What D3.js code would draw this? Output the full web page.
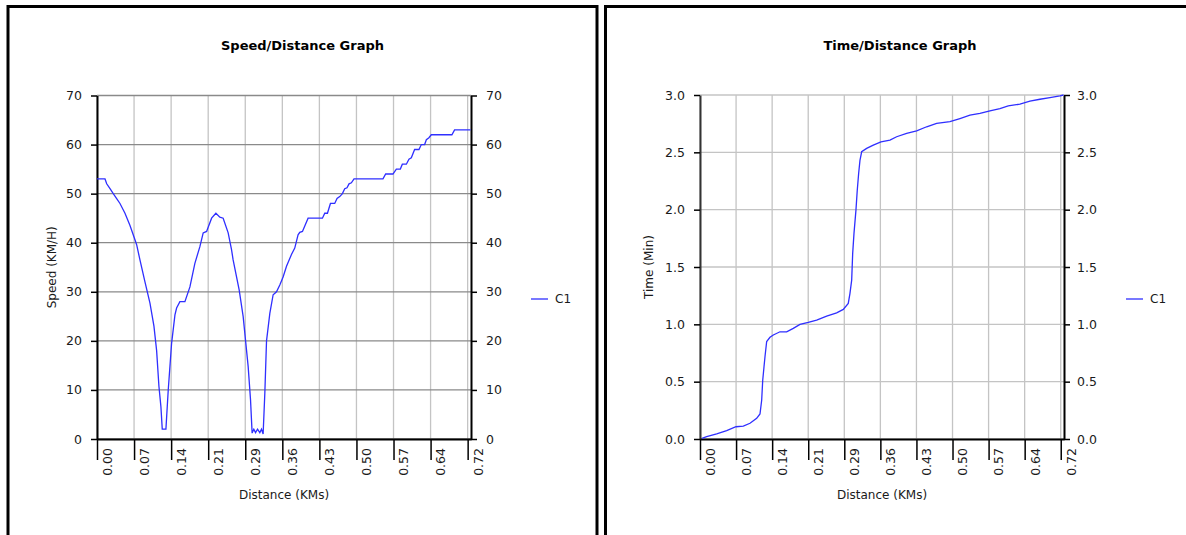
<!DOCTYPE html>
<html>
<head>
<meta charset="utf-8">
<script src="https://cdn.jsdelivr.net/npm/d3@7"></script>
<style>
  body { margin: 0; background: #fff; }
  svg text { font-family: "DejaVu Sans", Verdana, sans-serif; font-size: 12px; fill: #1a1a1a; }
  .title { font-weight: bold; fill: #000; font-size: 13px; }
</style>
</head>
<body>
<svg id="chart" width="1186" height="535"></svg>
<script>
// Speed/Distance graph: distance (km) and speed (km/h)
var speedDist = [0, 0.0155, 0.0188, 0.0252, 0.0315, 0.0381, 0.0445, 0.0542, 0.0639, 0.0722,
  0.0768, 0.0832, 0.0929, 0.1026, 0.1103, 0.1155, 0.120, 0.1238, 0.1264, 0.1335,
  0.138, 0.1445, 0.151, 0.1542, 0.1606, 0.1703, 0.18, 0.1896, 0.1993, 0.2057,
  0.2123, 0.222, 0.2303, 0.238, 0.2444, 0.2541, 0.2606, 0.2637, 0.2754, 0.2831,
  0.2928, 0.2974, 0.3005, 0.3038, 0.3071, 0.311, 0.3154, 0.3187, 0.3218, 0.3251,
  0.3284, 0.3348, 0.3412, 0.3477, 0.3541, 0.3605, 0.3671, 0.3767, 0.3831, 0.3895,
  0.3928, 0.398, 0.4089, 0.4367, 0.4412, 0.4464, 0.4522, 0.4605, 0.465, 0.4702,
  0.4754, 0.4799, 0.4843, 0.4882, 0.4928, 0.4979, 0.554, 0.5592, 0.5733, 0.5799,
  0.5876, 0.5915, 0.5993, 0.6043, 0.6089, 0.6153, 0.6237, 0.6283, 0.6347, 0.638,
  0.643, 0.6476, 0.6875, 0.6927, 0.7237];
var speedVal = [53, 53, 52, 51, 50, 49, 48, 46, 43.5, 41,
  39.6, 36.5, 32, 27.7, 23, 18, 10.7, 6.6, 2, 2,
  10, 19.5, 25.3, 26.7, 28, 28, 31, 35.8, 39.2, 42,
  42.3, 45, 46, 45.2, 45, 42, 38.6, 36.5, 30.4, 25,
  14.8, 8, 1.2, 2, 1.3, 2, 1.3, 2, 1, 9.3,
  20, 25.6, 29.4, 30, 31.4, 33, 35.2, 37.6, 38.9, 41.6,
  42.1, 42.3, 45, 45, 46, 46, 48, 48, 49, 49.4,
  50, 51, 51.2, 52, 52.2, 53, 53, 54, 54, 55,
  55, 56, 56, 57, 57.3, 59, 59, 60, 60, 61,
  61.4, 62, 62, 63, 63];

// Time/Distance graph: distance (km) and time (min)
var timeDist = [0.004, 0.0133, 0.0332, 0.0531, 0.0716, 0.0862, 0.0995, 0.1128, 0.1194, 0.1228,
  0.1248, 0.1274, 0.1294, 0.1327, 0.1393, 0.1459, 0.1592, 0.1725, 0.1857, 0.199,
  0.2155, 0.2322, 0.2521, 0.272, 0.2852, 0.2951, 0.2985, 0.3019, 0.3039, 0.3065,
  0.3104, 0.313, 0.3158, 0.3184, 0.3218, 0.3317, 0.3449, 0.3602, 0.3781, 0.3914,
  0.4113, 0.4312, 0.4511, 0.471, 0.4975, 0.5174, 0.5373, 0.5572, 0.5771, 0.597,
  0.6135, 0.6368, 0.6567, 0.6766, 0.6965, 0.7164, 0.7237];
var timeVal = [0.005, 0.02, 0.044, 0.073, 0.107, 0.113, 0.137, 0.18, 0.218, 0.34,
  0.51, 0.63, 0.72, 0.85, 0.887, 0.907, 0.935, 0.935, 0.965, 1.0,
  1.017, 1.037, 1.072, 1.10, 1.13, 1.183, 1.27, 1.386, 1.619, 1.793,
  1.996, 2.17, 2.317, 2.43, 2.505, 2.534, 2.563, 2.592, 2.607, 2.636,
  2.665, 2.688, 2.723, 2.752, 2.767, 2.795, 2.824, 2.839, 2.862, 2.882,
  2.905, 2.92, 2.946, 2.963, 2.978, 2.993, 3.0];

// x ticks (shared by both graphs)
var xTickValues = [0, 0.0718, 0.1436, 0.2154, 0.2872, 0.359, 0.4308, 0.5026, 0.5744, 0.6462, 0.718];
var xTickLabels = ["0.00", "0.07", "0.14", "0.21", "0.29", "0.36", "0.43", "0.50", "0.57", "0.64", "0.72"];
var xMax = 0.7245;

var speedTicks = [0, 10, 20, 30, 40, 50, 60, 70];
var timeTicks = [0, 0.5, 1.0, 1.5, 2.0, 2.5, 3.0];

var svg = d3.select("#chart");

var drawGraph = function(o) {
	var bottom = 439;
	var g = svg.append("g");

	//Panel frame
	g.append("rect")
		.attr("x", o.panelX)
		.attr("y", 6.5)
		.attr("width", o.panelW)
		.attr("height", 600)
		.attr("fill", "#fff")
		.attr("stroke", "#000")
		.attr("stroke-width", 3);

	//Scales
	var x = d3.scaleLinear().domain([0, xMax]).range([o.left, o.right]);
	var y = d3.scaleLinear().domain([0, o.yTicks[o.yTicks.length - 1]]).range([bottom, o.top]);

	//Grid lines
	g.append("g").selectAll("line")
		.data(xTickValues)
		.enter().append("line")
		.attr("x1", function(d) { return x(d); })
		.attr("x2", function(d) { return x(d); })
		.attr("y1", o.top)
		.attr("y2", bottom)
		.attr("stroke", o.vGrid)
		.attr("stroke-width", 1.3);

	g.append("g").selectAll("line")
		.data(o.yTicks)
		.enter().append("line")
		.attr("x1", o.left)
		.attr("x2", o.right)
		.attr("y1", function(d) { return y(d); })
		.attr("y2", function(d) { return y(d); })
		.attr("stroke", o.hGrid)
		.attr("stroke-width", 1.3);

	//Left axis
	var la = g.append("g")
		.attr("transform", "translate(" + o.left + ",0)")
		.call(d3.axisLeft(y).tickValues(o.yTicks).tickFormat(o.fmt).tickSize(6).tickSizeOuter(0).tickPadding(9));
	la.select(".domain").attr("stroke", o.leftAxis).attr("stroke-width", 2);

	//Right axis
	var ra = g.append("g")
		.attr("transform", "translate(" + o.right + ",0)")
		.call(d3.axisRight(y).tickValues(o.yTicks).tickFormat(o.fmt).tickSize(6).tickSizeOuter(0).tickPadding(o.rightPad));
	ra.select(".domain").attr("stroke", "#000").attr("stroke-width", 2);

	//Bottom axis with rotated labels
	var ba = g.append("g")
		.attr("transform", "translate(0," + bottom + ")")
		.call(d3.axisBottom(x).tickValues(xTickValues)
			.tickFormat(function(d, i) { return xTickLabels[i]; })
			.tickSize(21).tickSizeOuter(0));
	ba.select(".domain").attr("stroke", "#000").attr("stroke-width", 2);
	ba.selectAll(".tick text")
		.attr("transform", "rotate(-90)")
		.attr("x", -9)
		.attr("y", 10)
		.attr("dy", "0.35em")
		.attr("text-anchor", "end");

	g.selectAll(".tick line").attr("stroke", "#000").attr("stroke-width", 1.5);
	g.selectAll(".tick text").style("font-size", "12.5px").attr("fill", "#1a1a1a");
	g.selectAll(".domain").attr("fill", "none");

	//The series
	var line = d3.line()
		.x(function(d) { return x(d[0]); })
		.y(function(d) { return y(d[1]); });

	g.append("path")
		.datum(d3.zip(o.xs, o.ys))
		.attr("fill", "none")
		.attr("stroke", "#2f2fff")
		.attr("stroke-width", 1.3)
		.attr("d", line);

	//Titles and axis labels
	g.append("text")
		.attr("class", "title")
		.attr("x", o.panelX + 294.5)
		.attr("y", 50)
		.attr("text-anchor", "middle")
		.text(o.title);

	g.append("text")
		.attr("x", (o.left + o.right) / 2)
		.attr("y", 499)
		.attr("text-anchor", "middle")
		.text("Distance (KMs)");

	g.append("text")
		.attr("transform", "translate(" + o.yLabelX + "," + ((o.top + bottom) / 2) + ") rotate(-90)")
		.attr("text-anchor", "middle")
		.text(o.yLabel);

	//Legend
	var legend = g.append("g")
		.attr("transform", "translate(" + o.legendX + ",299)");
	legend.append("line")
		.attr("x1", 0)
		.attr("x2", 17)
		.attr("stroke", "#2f2fff")
		.attr("stroke-width", 1.3);
	legend.append("text")
		.attr("x", 24)
		.attr("dy", "0.35em")
		.text("C1");
};

drawGraph({
	panelX: 8, panelW: 589,
	left: 97, right: 471, top: 95.5,
	yTicks: speedTicks, fmt: d3.format("d"),
	hGrid: "#8a8a8a", vGrid: "#c4c4c4", leftAxis: "#000",
	rightPad: 9,
	xs: speedDist, ys: speedVal,
	title: "Speed/Distance Graph",
	yLabel: "Speed (KM/H)", yLabelX: 56,
	legendX: 531
});

drawGraph({
	panelX: 605.5, panelW: 589,
	left: 700, right: 1064, top: 95,
	yTicks: timeTicks, fmt: d3.format(".1f"),
	hGrid: "#c4c4c4", vGrid: "#c4c4c4", leftAxis: "#333",
	rightPad: 7,
	xs: timeDist, ys: timeVal,
	title: "Time/Distance Graph",
	yLabel: "Time (Min)", yLabelX: 653,
	legendX: 1126
});
</script>
</body>
</html>
